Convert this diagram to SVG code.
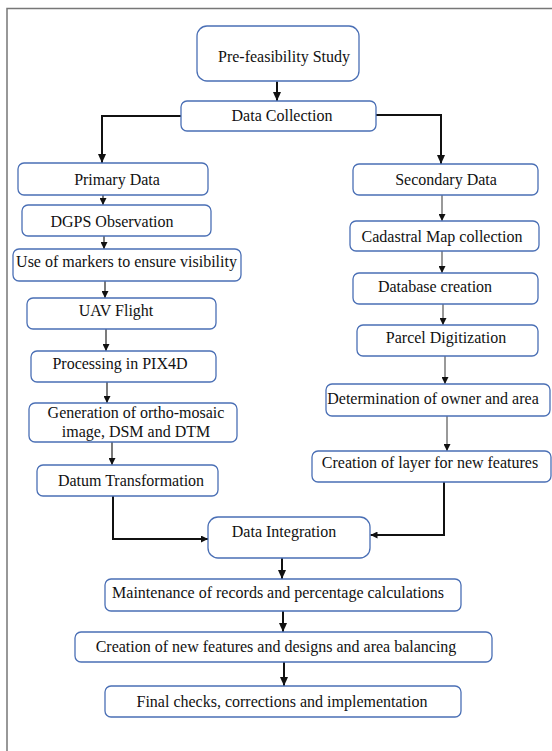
<svg xmlns="http://www.w3.org/2000/svg" width="552" height="751" viewBox="0 0 552 751">
<defs>
<style>
.box{fill:#fff;stroke:#4a6fb5;stroke-width:1.3}
.t{font-family:'Liberation Serif','DejaVu Serif',serif;font-size:16px;fill:#111;text-anchor:middle}
.thick{fill:none;stroke:#111;stroke-width:2}
.thin{fill:none;stroke:#222;stroke-width:1.2}
.grey{fill:none;stroke:#555;stroke-width:1.2}
</style>
<marker id="ah" markerUnits="userSpaceOnUse" markerWidth="10" markerHeight="8" refX="9" refY="4" orient="auto">
<path d="M0,0 L9,4 L0,8 Z" fill="#111"/>
</marker>
<marker id="as" markerUnits="userSpaceOnUse" markerWidth="8" markerHeight="7" refX="7" refY="3.5" orient="auto">
<path d="M0,0 L7,3.5 L0,7 Z" fill="#111"/>
</marker>
</defs>
<rect width="552" height="751" fill="#fff"/>
<g id="frame" fill="none" stroke="#777" stroke-width="1.5">
<path d="M552,8.5 H7 V751"/>
</g>
<g id="connectors">
<path class="thick" d="M277,81.5 V101" marker-end="url(#ah)"/>
<path class="thick" d="M181,116 H102 V163" marker-end="url(#ah)"/>
<path class="thick" d="M376,115 H441 V164" marker-end="url(#ah)"/>
<path class="thin" d="M103,195 V205" marker-end="url(#as)"/>
<path class="thin" d="M104,236 V249" marker-end="url(#as)"/>
<path class="thin" d="M105,281 V298" marker-end="url(#as)"/>
<path class="thin" d="M106,329 V351" marker-end="url(#as)"/>
<path class="thin" d="M107,382 V403" marker-end="url(#as)"/>
<path class="thin" d="M112,442 V465" marker-end="url(#as)"/>
<path class="thick" d="M113,496 V539 H208" marker-end="url(#as)"/>
<path class="grey" d="M442,195 V221" marker-end="url(#as)"/>
<path class="grey" d="M442,251 V273" marker-end="url(#as)"/>
<path class="grey" d="M443,304 V325" marker-end="url(#as)"/>
<path class="grey" d="M445,356 V384" marker-end="url(#as)"/>
<path class="grey" d="M447,416 V451" marker-end="url(#as)"/>
<path class="thick" d="M444,482 V535 H370.5" marker-end="url(#as)"/>
<path class="thick" d="M282,558 V579" marker-end="url(#ah)"/>
<path class="thick" d="M283,611 V632" marker-end="url(#ah)"/>
<path class="thick" d="M284,662 V686" marker-end="url(#ah)"/>
</g>
<g id="pre"><rect class="box" x="197" y="26" width="162" height="55" rx="10"/><text class="t" x="284" y="62">Pre-feasibility Study</text></g>
<g id="dc"><rect class="box" x="181" y="101" width="195" height="30" rx="6"/><text class="t" x="282" y="121">Data Collection</text></g>
<g id="primary"><rect class="box" x="18" y="163" width="190" height="32" rx="6"/><text class="t" x="117" y="185">Primary Data</text></g>
<g id="dgps"><rect class="box" x="22" y="205" width="189" height="31" rx="6"/><text class="t" x="112" y="227">DGPS Observation</text></g>
<g id="markers"><rect class="box" x="13" y="249" width="228" height="32" rx="6"/><text class="t" x="126.5" y="267">Use of markers to ensure visibility</text></g>
<g id="uav"><rect class="box" x="27" y="298" width="189" height="31" rx="6"/><text class="t" x="116" y="316">UAV Flight</text></g>
<g id="pix4d"><rect class="box" x="31" y="351" width="185" height="31" rx="6"/><text class="t" x="120" y="369">Processing in PIX4D</text></g>
<g id="generation"><rect class="box" x="29" y="403" width="208" height="39" rx="6"/><text class="t" x="136" y="418">Generation of ortho-mosaic</text><text class="t" x="136" y="437">image, DSM and DTM</text></g>
<g id="datum"><rect class="box" x="37" y="465" width="181" height="31" rx="6"/><text class="t" x="131" y="486">Datum Transformation</text></g>
<g id="secondary"><rect class="box" x="353" y="164" width="185" height="31" rx="6"/><text class="t" x="446" y="185">Secondary Data</text></g>
<g id="cadastral"><rect class="box" x="350" y="221" width="189" height="30" rx="6"/><text class="t" x="442" y="242">Cadastral Map collection</text></g>
<g id="database"><rect class="box" x="353" y="273" width="185" height="31" rx="6"/><text class="t" x="435" y="292">Database creation</text></g>
<g id="parcel"><rect class="box" x="357" y="325" width="181" height="31" rx="6"/><text class="t" x="446" y="343">Parcel Digitization</text></g>
<g id="determination"><rect class="box" x="326" y="384" width="224" height="32" rx="6"/><text class="t" x="433" y="404">Determination of owner and area</text></g>
<g id="layer"><rect class="box" x="312" y="451" width="239" height="31" rx="6"/><text class="t" x="430" y="468">Creation of layer for new features</text></g>
<g id="integration"><rect class="box" x="208" y="517" width="162" height="41" rx="10"/><text class="t" x="284" y="537">Data Integration</text></g>
<g id="maintenance"><rect class="box" x="105" y="579" width="356" height="32" rx="6"/><text class="t" x="278" y="598">Maintenance of records and percentage calculations</text></g>
<g id="creation"><rect class="box" x="75" y="632" width="417" height="30" rx="6"/><text class="t" x="276" y="652">Creation of new features and designs and area balancing</text></g>
<g id="final"><rect class="box" x="105" y="686" width="356" height="31" rx="6"/><text class="t" x="282" y="707">Final checks, corrections and implementation</text></g>
</svg>
